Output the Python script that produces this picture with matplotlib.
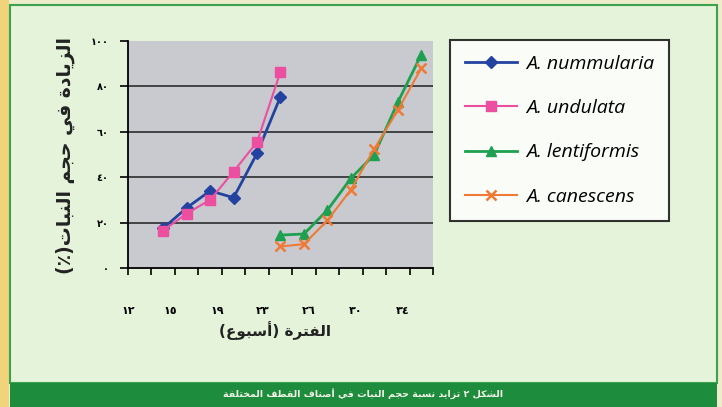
import numpy as np
import matplotlib.pyplot as plt
from matplotlib.patches import Rectangle

# Growth in plant volume (%) for four saltbush species, by week category
species = ['A. nummularia', 'A. undulata', 'A. lentiformis', 'A. canescens']
cats_first = [2, 3, 4, 5, 6, 7]
cats_second = [7, 8, 9, 10, 11, 12, 13]
nummularia = [17.5, 26.5, 34.0, 31.0, 50.5, 75.5]
undulata = [16.5, 24.0, 30.0, 42.5, 55.5, 86.5]
lentiformis = [14.5, 15.0, 25.5, 39.5, 50.0, 73.0, 94.0]
canescens = [9.5, 10.5, 21.0, 34.5, 52.5, 69.5, 88.0]

week_labels = ['١٢', '١٥', '١٩', '٢٣', '٢٦', '٣٠', '٣٤']
week_label_pos = [0.5, 2.3, 4.3, 6.25, 8.2, 10.2, 12.2]
y_ticks = [0, 20, 40, 60, 80, 100]
y_labels = ['٠', '٢٠', '٤٠', '٦٠', '٨٠', '١٠٠']

ylabel_text = 'الزيادة في حجم النبات(٪)'
xlabel_text = 'الفترة (أسبوع)'
caption_text = 'الشكل ٢ تزايد نسبة حجم النبات في أصناف القطف المختلفة'

# Presentation Forms-B base code points: (isolated, joins to next letter?)
ARABIC = {
    'ا': (0xFE8D, False), 'أ': (0xFE83, False), 'ب': (0xFE8F, True),
    'ة': (0xFE93, False), 'ت': (0xFE95, True), 'ج': (0xFE9D, True),
    'ح': (0xFEA1, True), 'خ': (0xFEA5, True), 'د': (0xFEA9, False),
    'ر': (0xFEAD, False), 'ز': (0xFEAF, False), 'س': (0xFEB1, True),
    'ش': (0xFEB5, True), 'ص': (0xFEB9, True), 'ط': (0xFEC1, True),
    'ع': (0xFEC9, True), 'ف': (0xFED1, True), 'ق': (0xFED5, True),
    'ك': (0xFED9, True), 'ل': (0xFEDD, True), 'م': (0xFEE1, True),
    'ن': (0xFEE5, True), 'ه': (0xFEE9, True), 'و': (0xFEED, False),
    'ي': (0xFEF1, True),
}


def arabic(text):
    """Shape Arabic letters and return them in left-to-right drawing order."""
    out = []
    for i, ch in enumerate(text):
        if ch not in ARABIC:
            out.append(ch)
            continue
        base, dual = ARABIC[ch]
        prev = text[i - 1] if i > 0 else ''
        nxt = text[i + 1] if i + 1 < len(text) else ''
        join_prev = prev in ARABIC and ARABIC[prev][1]
        join_next = dual and nxt in ARABIC
        if join_prev and join_next:
            out.append(chr(base + 3))
        elif join_prev:
            out.append(chr(base + 1))
        elif join_next:
            out.append(chr(base + 2))
        else:
            out.append(chr(base))
    mirror = {'(': ')', ')': '('}
    return ''.join(mirror.get(c, c) for c in reversed(out))


fig = plt.figure(figsize=(7.22, 4.07), dpi=100, facecolor='#eeeccb')

# page background: yellow strip, light green panel, green caption band
fig.patches.append(Rectangle((0, 0), 0.0125, 1, transform=fig.transFigure,
                             facecolor='#f0d37a', edgecolor='none', zorder=-2))
fig.patches.append(Rectangle((0.0139, 0.059), 0.979, 0.929, transform=fig.transFigure,
                             facecolor='#e4f3d9', edgecolor='#3da24e', lw=1.5, zorder=-2))
fig.patches.append(Rectangle((0.0139, 0), 0.979, 0.059, transform=fig.transFigure,
                             facecolor='#1d8c3c', edgecolor='none', zorder=-2))

ax = fig.add_axes([0.1773, 0.3415, 0.4224, 0.5577])
ax.set_zorder(1)
ax.set_facecolor('#c9cacf')

ax.plot(cats_first, nummularia, color='#2443a0', lw=2, marker='D', ms=6, label=species[0])
ax.plot(cats_first, undulata, color='#ec4fa0', lw=1.5, marker='s', ms=6.5, label=species[1])
ax.plot(cats_second, lentiformis, color='#1fa050', lw=2, marker='^', ms=7, label=species[2])
ax.plot(cats_second, canescens, color='#f07a35', lw=1.5, marker='x', ms=7, mew=1.8, label=species[3])

ax.set_xlim(0.5, 13.5)
ax.set_ylim(0, 100)
ax.set_xticks(np.arange(0.5, 14))
ax.set_xticklabels([])
ax.set_yticks(y_ticks)
ax.set_yticklabels(y_labels, fontsize=7, fontweight='bold', family='DejaVu Sans')
ax.tick_params(axis='x', direction='out', length=5, width=1.2)
ax.tick_params(axis='y', direction='out', length=6, width=1.2, pad=8)
for y in y_ticks[1:-1]:
    ax.axhline(y, color='#1e1e1e', lw=1.1, zorder=0.5)
for side in ('top', 'right'):
    ax.spines[side].set_visible(False)
for side in ('left', 'bottom'):
    ax.spines[side].set_linewidth(1.3)
    ax.spines[side].set_color('black')

# week labels sit well below the axis
sec = ax.secondary_xaxis('bottom')
sec.set_xticks(week_label_pos, labels=week_labels)
sec.tick_params(length=0, pad=27, labelsize=8)
for lab in sec.get_xticklabels():
    lab.set_fontweight('bold')
sec.spines['bottom'].set_visible(False)

leg = ax.legend(loc='upper left', bbox_to_anchor=(450 / 722, 1 - 40 / 407),
                bbox_transform=fig.transFigure, frameon=True, fancybox=False,
                prop={'family': 'Open Sans', 'style': 'italic', 'size': 14},
                handlelength=2.7, handletextpad=0.45, labelspacing=1.36,
                borderpad=0.75, borderaxespad=0)
leg.get_frame().set_edgecolor('black')
leg.get_frame().set_linewidth(1.5)
leg.get_frame().set_facecolor('white')

fig.text(65 / 722, 1 - 155 / 407, arabic(ylabel_text), rotation=90,
         ha='center', va='center', fontsize=13.5, fontweight='bold', color='#222222')
fig.text(275 / 722, 1 - 331 / 407, arabic(xlabel_text),
         ha='center', va='center', fontsize=11, fontweight='bold', color='#222222')
fig.text(503 / 722, 1 - 394 / 407, arabic(caption_text),
         ha='right', va='center', fontsize=6.8, fontweight='bold', color='#f4f4e8')

fig.savefig('out.png', dpi=100, facecolor=fig.get_facecolor())
